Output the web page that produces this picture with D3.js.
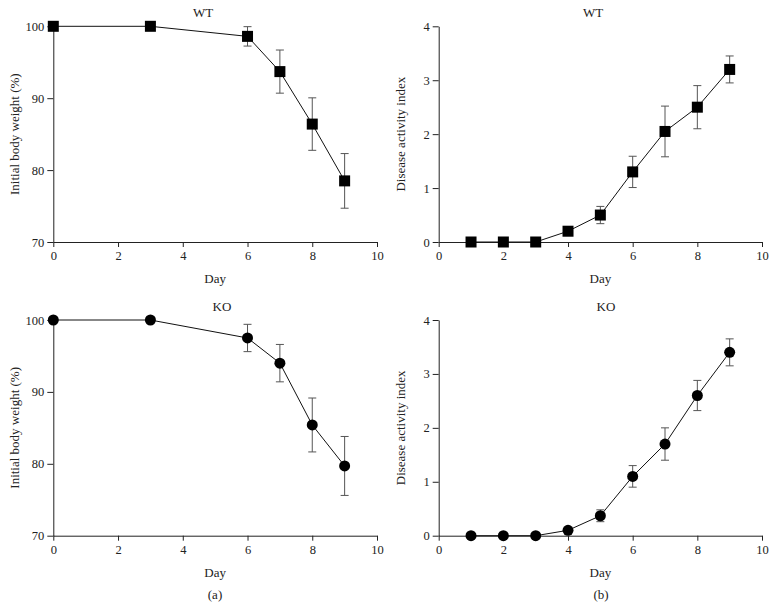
<!DOCTYPE html>
<html>
<head>
<meta charset="utf-8">
<script src="https://cdn.jsdelivr.net/npm/d3@7"></script>
<style>
  body { margin: 0; background: #fff; }
  svg { display: block; }
  svg text { font-family: "Liberation Serif", "Times New Roman", serif; }
  .tick text { fill: #222; }
  .domain, .tick line { stroke: #222; }
</style>
</head>
<body>
<div id="main"></div>
<script>
// weight panels (a)
const weightDays = [0, 3, 6, 7, 8, 9];
const wtWeight = [100, 100, 98.6, 93.7, 86.4, 78.5];
const wtWeightErr = [0, 0, 1.35, 3.0, 3.65, 3.8];
const koWeight = [100, 100, 97.5, 94.0, 85.4, 79.7];
const koWeightErr = [0, 0, 1.9, 2.6, 3.75, 4.1];

// disease activity index panels (b)
const daiDays = [1, 2, 3, 4, 5, 6, 7, 8, 9];
const wtDai = [0, 0, 0, 0.2, 0.5, 1.3, 2.05, 2.5, 3.2];
const wtDaiErr = [0, 0, 0, 0, 0.16, 0.29, 0.47, 0.4, 0.25];
const koDai = [0, 0, 0, 0.1, 0.37, 1.1, 1.7, 2.6, 3.4];
const koDaiErr = [0, 0, 0, 0, 0.11, 0.2, 0.3, 0.28, 0.25];

const xTicks = [0, 2, 4, 6, 8, 10];
const weightTicks = [70, 80, 90, 100];
const daiTicks = [0, 1, 2, 3, 4];

const width = 776, height = 611;
const svg = d3.select("#main").append("svg")
  .attr("width", width)
  .attr("height", height)
  .attr("font-family", "Liberation Serif, serif");

const panels = [
  { left: 53.3, right: 377, top: 26.3, bottom: 242, title: "WT", titleX: 203, days: weightDays, vals: wtWeight, errs: wtWeightErr,
    domain: [70, 100], ticks: weightTicks, ylabel: "Initial body weight (%)", marker: "square" },
  { left: 438.7, right: 762, top: 26.3, bottom: 242, title: "WT", titleX: 593, days: daiDays, vals: wtDai, errs: wtDaiErr,
    domain: [0, 4], ticks: daiTicks, ylabel: "Disease activity index", marker: "square" },
  { left: 53.3, right: 377, top: 320, bottom: 535.7, title: "KO", titleX: 222, days: weightDays, vals: koWeight, errs: koWeightErr,
    domain: [70, 100], ticks: weightTicks, ylabel: "Initial body weight (%)", marker: "circle" },
  { left: 438.7, right: 762, top: 320, bottom: 535.7, title: "KO", titleX: 606, days: daiDays, vals: koDai, errs: koDaiErr,
    domain: [0, 4], ticks: daiTicks, ylabel: "Disease activity index", marker: "circle" }
];

panels.forEach(p => {
  const x = d3.scaleLinear().domain([0, 10]).range([p.left, p.right]);
  const y = d3.scaleLinear().domain(p.domain).range([p.bottom, p.top]);
  const g = svg.append("g");

  // axes
  g.append("g")
    .attr("transform", `translate(0,${p.bottom})`)
    .call(d3.axisBottom(x).tickValues(xTicks).tickFormat(d3.format("d")).tickSize(5).tickSizeOuter(0).tickPadding(4))
    .attr("font-family", null).attr("font-size", 12.5);
  g.append("g")
    .attr("transform", `translate(${p.left},0)`)
    .call(d3.axisLeft(y).tickValues(p.ticks).tickFormat(d3.format("d")).tickSize(6).tickSizeOuter(0).tickPadding(3))
    .attr("font-family", null).attr("font-size", 12.5);

  const pts = p.days.map((d, i) => ({ d, v: p.vals[i], e: p.errs[i] }));

  // error bars
  const eb = g.append("g").attr("stroke", "#555").attr("stroke-width", 1);
  pts.filter(q => q.e > 0).forEach(q => {
    const cx = x(q.d);
    eb.append("line").attr("x1", cx).attr("x2", cx).attr("y1", y(q.v + q.e)).attr("y2", y(q.v - q.e));
    eb.append("line").attr("x1", cx - 4).attr("x2", cx + 4).attr("y1", y(q.v + q.e)).attr("y2", y(q.v + q.e));
    eb.append("line").attr("x1", cx - 4).attr("x2", cx + 4).attr("y1", y(q.v - q.e)).attr("y2", y(q.v - q.e));
  });

  // line
  g.append("path")
    .datum(pts)
    .attr("fill", "none")
    .attr("stroke", "#111")
    .attr("stroke-width", 1)
    .attr("d", d3.line().x(q => x(q.d)).y(q => y(q.v)));

  // markers
  if (p.marker === "square") {
    g.selectAll("rect.m").data(pts).enter().append("rect")
      .attr("x", q => x(q.d) - 5.5).attr("y", q => y(q.v) - 5.5)
      .attr("width", 11).attr("height", 11).attr("fill", "#000");
  } else {
    g.selectAll("circle.m").data(pts).enter().append("circle")
      .attr("cx", q => x(q.d)).attr("cy", q => y(q.v)).attr("r", 5.5).attr("fill", "#000");
  }

  // titles and labels
  const midX = (p.left + p.right) / 2;
  g.append("text").attr("x", p.titleX).attr("y", p.top - 9).attr("text-anchor", "middle")
    .attr("font-size", 13).attr("fill", "#222").text(p.title);
  g.append("text").attr("x", midX).attr("y", p.bottom + 41).attr("text-anchor", "middle")
    .attr("font-size", 13).attr("fill", "#222").text("Day");
  g.append("text")
    .attr("transform", `translate(${p.left - 34},${(p.top + p.bottom) / 2}) rotate(-90)`)
    .attr("text-anchor", "middle").attr("font-size", 13).attr("fill", "#222").text(p.ylabel);
});

svg.append("text").attr("x", 215).attr("y", 599).attr("text-anchor", "middle")
  .attr("font-size", 13).attr("fill", "#222").text("(a)");
svg.append("text").attr("x", 601).attr("y", 599).attr("text-anchor", "middle")
  .attr("font-size", 13).attr("fill", "#222").text("(b)");
</script>
</body>
</html>
